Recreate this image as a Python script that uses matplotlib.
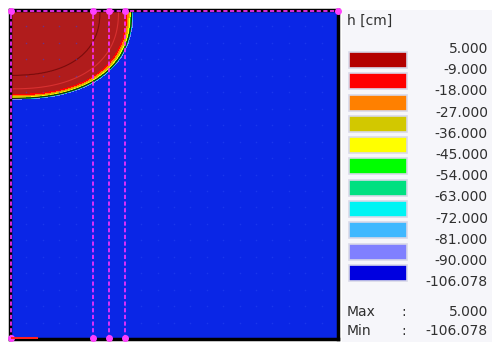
import numpy as np
import matplotlib
matplotlib.use("Agg")
import matplotlib.pyplot as plt
from matplotlib.colors import ListedColormap, BoundaryNorm
from matplotlib.patches import Rectangle

# class limits of pressure head h [cm] (legend labels, top to bottom)
levels = [5.000, -9.000, -18.000, -27.000, -36.000, -45.000, -54.000,
          -63.000, -72.000, -81.000, -90.000, -106.078]
box_colors = ['#b40000', '#ff0000', '#ff8000', '#d2c800', '#ffff00', '#00ff00',
              '#00e080', '#00f4f4', '#40b8ff', '#8080ff', '#0000e0']
h_max, h_min = 5.000, -106.078

# wetted bulb (rounded quarter ellipse from the top-left corner)
bulb_a, bulb_b, bulb_p = 0.352, 0.255, 2.4
r_prof = [0.0, 0.78, 0.94, 1.0, 1.012, 1.024, 1.032, 1.04, 1.052, 1.056, 1.058, 1.06, 1.062, 1.3]
h_prof = [5.0, -2.0, -7.0, -9.0, -18.0, -27.0, -36.0, -45.0, -54.0, -63.0, -72.0, -81.0, -90.0, -106.0]

# observation verticals (fraction of domain width)
obs_x = [0.003, 0.253, 0.302, 0.351]

xs = np.linspace(0, 1, 600)
ys = np.linspace(0, 1, 600)
X, Y = np.meshgrid(xs, ys)
R = ((X / bulb_a) ** bulb_p + ((1 - Y) / bulb_b) ** bulb_p) ** (1 / bulb_p)
H = np.interp(R, r_prof, h_prof)

fig = plt.figure(figsize=(4.92, 3.42), dpi=100)
W, Hpx = 492, 342

ax = fig.add_axes([10 / W, (342 - 339) / Hpx, 328 / W, 329 / Hpx])
field_colors = ['#b01c1c'] + box_colors[1:-1] + ['#0a26e6']
cmap = ListedColormap(field_colors[::-1])
bounds = levels[::-1]
norm = BoundaryNorm(bounds, cmap.N)
ax.contourf(X, Y, H, levels=bounds, cmap=cmap, norm=norm)
ax.contour(X, Y, H, levels=[-2.0], colors='#7a0c0c', linewidths=0.8,
           linestyles='solid')
ax.contour(X, Y, H, levels=[-7.0], colors='#d83030', linewidths=0.8,
           linestyles='solid')
ax.contour(X, Y, H, levels=[-58.0], colors='#1a2a10', linewidths=0.9,
           linestyles='solid')

# faint mesh nodes
gx, gy = np.meshgrid(np.linspace(0, 1, 21), np.linspace(0, 1, 21))
ax.scatter(gx.ravel(), gy.ravel(), s=1.2, color='#2a48f0', alpha=0.5, lw=0, zorder=2)

for xv in obs_x:
    ax.plot([xv, xv], [0, 1], color='#ff30ff', lw=1.2, ls=(0, (2.5, 1.5)), zorder=4)
    ax.plot([xv, xv], [0.004, 0.996], 'o', color='#ff40ff', ms=4, zorder=5, clip_on=False)
ax.plot([0, 1], [0.997, 0.997], color='#ff30ff', lw=1.2, ls=(0, (2.5, 1.5)), zorder=4)
ax.plot([1], [0.997], 'o', color='#ff40ff', ms=4, zorder=5, clip_on=False)
ax.plot([0.005, 0.08], [0.004, 0.004], color='#ff2020', lw=2.2, zorder=5)

ax.set_xlim(0, 1)
ax.set_ylim(0, 1)
ax.set_xticks([])
ax.set_yticks([])
for s in ax.spines.values():
    s.set_color('black')
    s.set_linewidth(2.5)

# legend panel in pixel coordinates
lg = fig.add_axes([342 / W, 0, 150 / W, 332 / Hpx])
lg.set_xlim(342, 492)
lg.set_ylim(342, 10)
lg.axis('off')
lg.add_patch(Rectangle((342, 10), 150, 332, color='#f6f6fa', zorder=0))
tc = '#303030'
lg.text(347, 21, 'h [cm]', fontsize=10, color=tc, va='center', ha='left')
for i, c in enumerate(box_colors):
    y0 = 52 + i * 21.3
    lg.add_patch(Rectangle((349, y0), 58, 16, facecolor=c, edgecolor='#d8d8e8', lw=1.2, zorder=2))
for i, v in enumerate(levels):
    lg.text(488, 49 + i * 21.2, f'{v:.3f}', fontsize=10, color=tc, va='center', ha='right')
lg.text(347, 312, 'Max', fontsize=10, color=tc, va='center', ha='left')
lg.text(404, 312, ':', fontsize=10, color=tc, va='center', ha='center')
lg.text(488, 312, f'{h_max:.3f}', fontsize=10, color=tc, va='center', ha='right')
lg.text(347, 331, 'Min', fontsize=10, color=tc, va='center', ha='left')
lg.text(404, 331, ':', fontsize=10, color=tc, va='center', ha='center')
lg.text(488, 331, f'{h_min:.3f}', fontsize=10, color=tc, va='center', ha='right')

fig.savefig('out.png', dpi=100)
